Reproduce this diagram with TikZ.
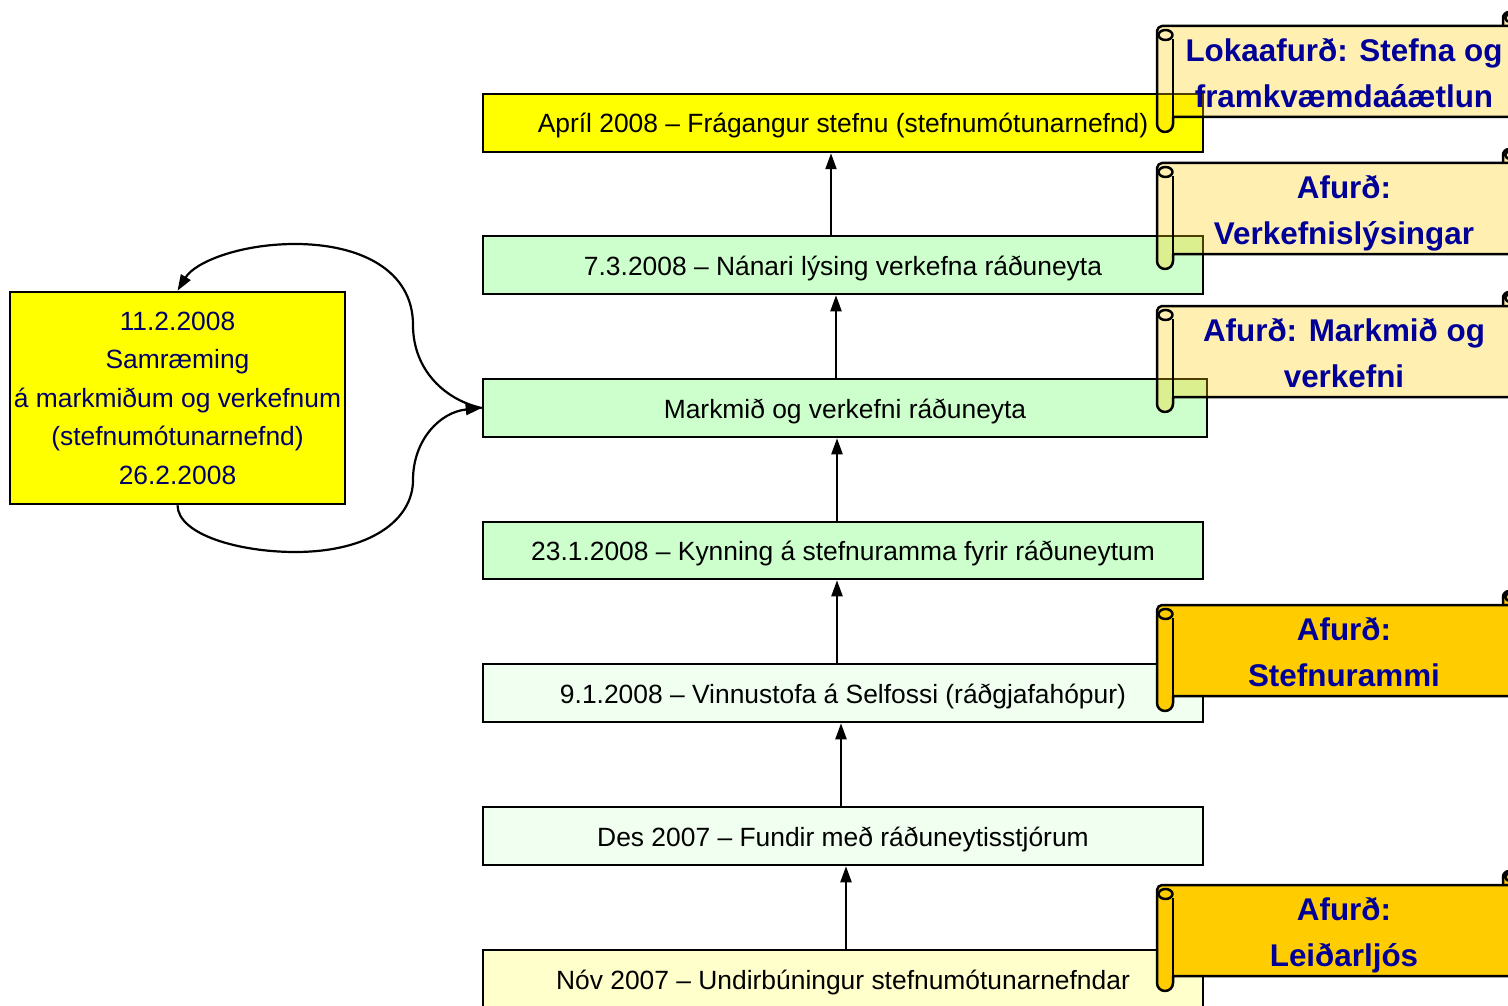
\documentclass[tikz,border=0pt]{standalone}
\usepackage{fontspec}
\setmainfont{Liberation Sans}
\usetikzlibrary{arrows.meta}
\definecolor{scrollc}{HTML}{FFCC00}
\definecolor{navy}{HTML}{000099}
\definecolor{lnavy}{HTML}{000066}
\definecolor{gbox}{HTML}{CCFFCC}
\definecolor{pgbox}{HTML}{F0FFF0}
\definecolor{ybox}{HTML}{FFFF00}
\definecolor{pybox}{HTML}{FFFFCC}
\tikzset{
  box/.style={draw=black, line width=2.5pt, minimum width=720pt, minimum height=58pt,
    inner sep=0pt, text height=24pt, text depth=4pt, font=\fontsize{26.4}{30}\selectfont},
  lbox/.style={draw=black, line width=2.5pt, fill=ybox, minimum width=335pt, minimum height=212pt,
    inner sep=0pt, align=center, text=lnavy, font=\fontsize{26.4}{38.5}\selectfont},
  arr/.style={line width=2.2pt, -{Triangle[length=16pt,width=11pt]}},
  scrollline/.style={draw=black, line width=2.5pt, line join=round},
  stext/.style={align=center, text=navy, inner sep=0pt, font=\fontsize{31.4}{45.5}\selectfont\bfseries}
}
\newcommand{\drawscroll}[5]{%
  \filldraw[scrollline, fill=scrollc, fill opacity=#3, rounded corners=6]
    (1503,#2) -- (1503,#2-14) -- (1519,#2-14) -- (1519,#2);
  \draw[scrollline] (1511,#2-8) ellipse [x radius=6, y radius=4];
  \filldraw[scrollline, fill=scrollc, fill opacity=#3]
    (1173,#2+91) -- (1173,#2+98)
    .. controls (1173,#2+102.4) and (1169.4,#2+106) .. (1165,#2+106)
    .. controls (1160.6,#2+106) and (1157,#2+102.4) .. (1157,#2+98)
    -- (1157,#2+5)
    .. controls (1157,#2+2.2) and (1159.8,#2) .. (1162,#2)
    -- (1530,#2) -- (1530,#2+91) -- cycle;
  \draw[scrollline] (1173,#2+13) -- (1173,#2+91);
  \draw[scrollline] (1165.5,#2+9) ellipse [x radius=7, y radius=5];
  \node[stext] (#1) at (1344,#2+49.5) {\strut #4\\\strut #5};
}
\begin{document}
\begin{tikzpicture}[x=1pt, y=-1pt]
\useasboundingbox (0,0) rectangle (1508,1006);
\clip (0,0) rectangle (1508,1006);

% timeline boxes
\node[box, fill=ybox] (april) at (843,123) {Apríl 2008 – Frágangur stefnu (stefnumótunarnefnd)};
\node[box, fill=gbox] (b73) at (843,265) {7.3.2008 – Nánari lýsing verkefna ráðuneyta};
\node[box, fill=gbox, minimum width=724pt] (mark) at (845,408) {Markmið og verkefni ráðuneyta};
\node[box, fill=gbox, minimum height=57pt] (b231) at (843,550.5) {23.1.2008 – Kynning á stefnuramma fyrir ráðuneytum};
\node[box, fill=pgbox] (b91) at (843,693) {9.1.2008 – Vinnustofa á Selfossi (ráðgjafahópur)};
\node[box, fill=pgbox] (des) at (843,836) {Des 2007 – Fundir með ráðuneytisstjórum};
\node[box, fill=pybox] (nov) at (843,979) {Nóv 2007 – Undirbúningur stefnumótunarnefndar};

% left box
\node[lbox] (left) at (177.5,398) {11.2.2008\\Samræming\\á markmiðum og verkefnum\\(stefnumótunarnefnd)\\26.2.2008};

% vertical arrows
\draw[arr] ([xshift=3pt]nov.north) -- ([xshift=3pt]des.south);
\draw[arr] ([xshift=-2pt]des.north) -- ([xshift=-2pt]b91.south);
\draw[arr] ([xshift=-6pt]b91.north) -- ([xshift=-6pt]b231.south);
\draw[arr] ([xshift=-6pt]b231.north) -- ([xshift=-8pt]mark.south);
\draw[arr] ([xshift=-9pt]mark.north) -- ([xshift=-7pt]b73.south);
\draw[arr] ([xshift=-12pt]b73.north) -- ([xshift=-12pt]april.south);

% loop arrows
\draw[arr] (mark.west) .. controls (445,400) and (413,370) .. (413,325)
  .. controls (413,270) and (360,244) .. (295,244)
  .. controls (240,244) and (195,262) .. (left.north);
\draw[arr] (left.south) .. controls (178,535) and (240,552) .. (295,552)
  .. controls (370,552) and (413,520) .. (413,480)
  .. controls (413,440) and (440,412) .. (mark.west);

% scrolls
\drawscroll{s1}{26}{0.3}{Lokaafurð: Stefna og}{framkvæmdaáætlun}
\drawscroll{s2}{163}{0.3}{Afurð:}{Verkefnislýsingar}
\drawscroll{s3}{306}{0.3}{Afurð: Markmið og}{verkefni}
\drawscroll{s4}{605}{1}{Afurð:}{Stefnurammi}
\drawscroll{s5}{885}{1}{Afurð:}{Leiðarljós}
\end{tikzpicture}
\end{document}
